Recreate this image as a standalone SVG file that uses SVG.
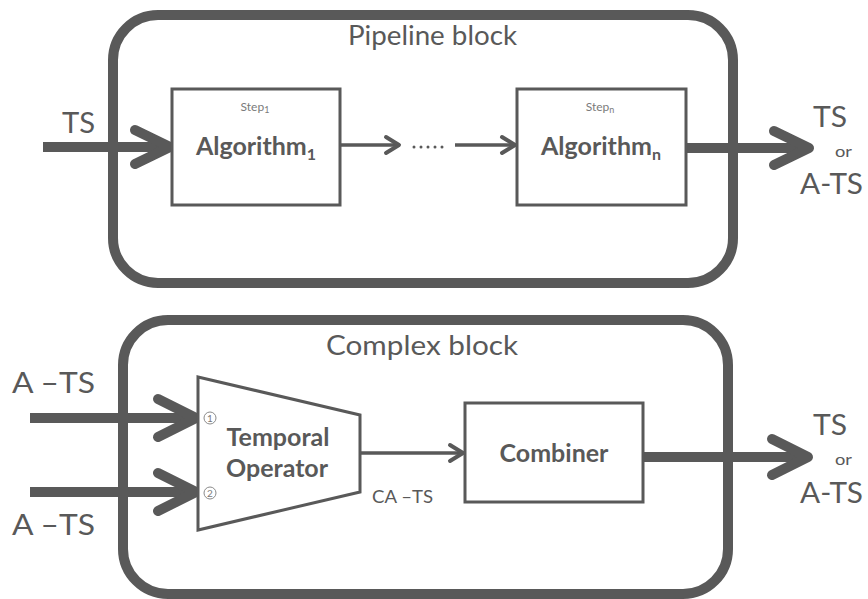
<svg xmlns="http://www.w3.org/2000/svg" width="868" height="599" viewBox="0 0 868 599">
  <style>
    .frame { fill: none; stroke: #595959; stroke-width: 10; }
    .box { fill: #ffffff; stroke: #595959; stroke-width: 3; }
    .thick { fill: none; stroke: #595959; stroke-width: 10; }
    .thin { fill: none; stroke: #595959; stroke-width: 3.5; }
    .head-thick { fill: none; stroke: #595959; stroke-width: 10; stroke-linecap: round; stroke-linejoin: round; }
    .head-thin { fill: none; stroke: #595959; stroke-width: 4; stroke-linecap: round; stroke-linejoin: round; }
    text { font-family: Lato, "Liberation Sans", sans-serif; fill: #595959; }
    .title { font-size: 26px; }
    .io { font-size: 28px; }
    .or { font-size: 16px; }
    .label { font-size: 25px; font-weight: bold; }
    .step { font-size: 12px; fill: #7a7a7a; }
    .small { font-size: 17px; }
    .num { font-size: 10px; fill: #7a7a7a; }
  </style>

  <rect width="868" height="599" fill="#ffffff"/>

  <!-- pipeline block -->
  <g id="pipeline-block">
    <rect class="frame" x="113" y="15" width="620" height="268" rx="45" ry="45"/>
    <text class="title" x="348" y="45" textLength="169" lengthAdjust="spacingAndGlyphs">Pipeline block</text>
  </g>

  <!-- complex block -->
  <g id="complex-block">
    <rect class="frame" x="123" y="320" width="605" height="274" rx="45" ry="45"/>
    <text class="title" x="326" y="355" textLength="192" lengthAdjust="spacingAndGlyphs">Complex block</text>
  </g>

  <!-- connectors -->
  <g id="connectors">
    <!-- pipeline input -->
    <line class="thick" x1="43" y1="147" x2="170" y2="147"/>
    <polyline class="head-thick" points="135,130 170,147 135,164"/>
    <!-- algorithm 1 to ellipsis -->
    <line class="thin" x1="340" y1="145" x2="398" y2="145"/>
    <polyline class="head-thin" points="386,137 399,145 386,153"/>
    <!-- ellipsis to algorithm n -->
    <line class="thin" x1="455" y1="145" x2="514" y2="145"/>
    <polyline class="head-thin" points="502,137 515,145 502,153"/>
    <!-- pipeline output -->
    <line class="thick" x1="686" y1="148" x2="808" y2="148"/>
    <polyline class="head-thick" points="774,131 809,148 774,165"/>

    <!-- complex inputs -->
    <line class="thick" x1="30" y1="418" x2="196" y2="418"/>
    <polyline class="head-thick" points="158,399 196,418 158,437"/>
    <line class="thick" x1="30" y1="492" x2="196" y2="492"/>
    <polyline class="head-thick" points="158,473 196,492 158,511"/>
    <!-- temporal operator to combiner -->
    <line class="thin" x1="360" y1="453" x2="462" y2="453"/>
    <polyline class="head-thin" points="450,445 463,453 450,461"/>
    <!-- complex output -->
    <line class="thick" x1="643" y1="457" x2="807" y2="457"/>
    <polyline class="head-thick" points="772,439 808,457 772,475"/>
  </g>

  <!-- ellipsis between steps -->
  <g id="ellipsis" fill="#595959">
    <circle cx="414" cy="147" r="1.5"/>
    <circle cx="421" cy="147" r="1.5"/>
    <circle cx="428" cy="147" r="1.5"/>
    <circle cx="435" cy="147" r="1.5"/>
    <circle cx="442" cy="147" r="1.5"/>
  </g>

  <!-- algorithm 1 -->
  <g id="algorithm-1">
    <rect class="box" x="172" y="89" width="168" height="116"/>
    <text class="step" x="255" y="111" text-anchor="middle">Step<tspan font-size="9" dy="2">1</tspan></text>
    <text class="label" x="256" y="155" text-anchor="middle">Algorithm<tspan font-size="16" dy="5">1</tspan></text>
  </g>

  <!-- algorithm n -->
  <g id="algorithm-n">
    <rect class="box" x="517" y="89" width="169" height="116"/>
    <text class="step" x="600" y="111" text-anchor="middle">Step<tspan font-size="9" dy="2">n</tspan></text>
    <text class="label" x="601" y="155" text-anchor="middle">Algorithm<tspan font-size="16" dy="5">n</tspan></text>
  </g>

  <!-- temporal operator -->
  <g id="temporal-operator">
    <polygon class="box" points="198,377 360,415 360,492 198,530"/>
    <circle cx="210" cy="418" r="6" fill="#ffffff" stroke="#8a8a8a" stroke-width="1"/>
    <text class="num" x="210" y="421.5" text-anchor="middle">1</text>
    <circle cx="210" cy="493" r="6" fill="#ffffff" stroke="#8a8a8a" stroke-width="1"/>
    <text class="num" x="210" y="496.5" text-anchor="middle">2</text>
    <text class="label" x="278" y="446" text-anchor="middle" font-size="26">Temporal</text>
    <text class="label" x="277" y="477" text-anchor="middle" font-size="26">Operator</text>
  </g>

  <!-- combiner -->
  <g id="combiner">
    <rect class="box" x="465" y="403" width="178" height="99"/>
    <text class="label" x="554" y="462" text-anchor="middle" font-size="26">Combiner</text>
  </g>

  <!-- signal labels -->
  <g id="labels">
    <text class="io" x="62" y="133" textLength="33" lengthAdjust="spacingAndGlyphs">TS</text>
    <text class="io" x="813" y="127" textLength="34" lengthAdjust="spacingAndGlyphs">TS</text>
    <text class="or" x="835" y="157" textLength="17" lengthAdjust="spacingAndGlyphs">or</text>
    <text class="io" x="800" y="194" textLength="63" lengthAdjust="spacingAndGlyphs">A-TS</text>

    <text class="io" x="12" y="393" textLength="83" lengthAdjust="spacingAndGlyphs">A –TS</text>
    <text class="io" x="12" y="535" textLength="83" lengthAdjust="spacingAndGlyphs">A –TS</text>
    <text class="small" x="372" y="503" textLength="61" lengthAdjust="spacingAndGlyphs">CA –TS</text>
    <text class="io" x="813" y="435" textLength="34" lengthAdjust="spacingAndGlyphs">TS</text>
    <text class="or" x="835" y="465" textLength="17" lengthAdjust="spacingAndGlyphs">or</text>
    <text class="io" x="800" y="503" textLength="63" lengthAdjust="spacingAndGlyphs">A-TS</text>
  </g>
</svg>
